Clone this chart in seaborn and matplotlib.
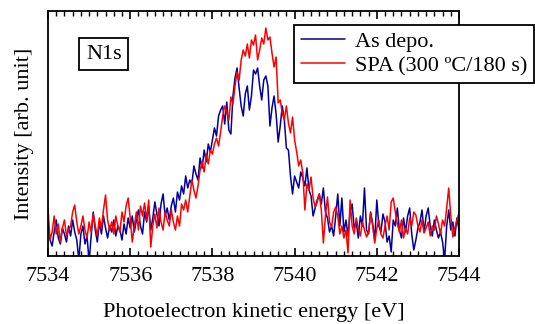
import numpy as np
import pandas as pd
import matplotlib.pyplot as plt
from matplotlib.ticker import MultipleLocator
import seaborn as sns

# kinetic energy axis, 0.05 eV step
energy = np.round(np.arange(7534.0, 7544.0001, 0.05), 2)

# As deposited (arb. units)
as_depo = [
    32, 16, 10, 24, 36, 18, 12, 28, 22, 14, 30, 20, 36, 24, 16, -4, 22, 30, 12, 20,
    -6, 20, 44, 26, 14, 34, 22, 40, 28, 18, 30, 24, 36, 20, 30, 26, 16, 32, 22, 38,
    28, 40, 24, 36, 46, 30, 22, 44, 34, 50, 26, 38, 54, 42, 30, 52, 62, 40, 48, 36,
    50, 58, 44, 64, 56, 70, 62, 80, 68, 76, 72, 90, 82, 76, 98, 88, 106, 94, 112, 104,
    116, 128, 120, 140, 146, 150, 132, 154, 126, 122, 160, 178, 188, 168, 150, 140, 162, 170, 146, 160,
    186, 182, 188, 170, 156, 176, 180, 170, 130, 148, 160, 142, 114, 130, 150, 136, 108, 106, 80, 62,
    80, 74, 68, 84, 78, 70, 88, 66, 60, 40, 48, 56, 62, 52, 68, 44, 38, 24, 30, 20,
    40, 62, 30, 58, 24, 36, 20, 44, 52, 28, 34, 18, 40, 30, 68, 26, 22, 44, 32, 16,
    56, 30, 24, 42, 34, 14, 20, 4, 36, 30, 48, 26, 18, 38, 24, 40, 48, 22, 6, 16,
    28, 34, 46, 24, 40, 48, 30, 20, 36, 26, 18, 24, 14, -4, 30, 46, 26, 34, 20, 38,
    26,
]

# SPA (300 ºC / 180 s)
spa = [
    48, 16, 24, 40, 22, 32, 14, 28, 36, 20, 26, 30, 44, 51, 34, 22, 30, 40, 26, 18,
    34, 24, 42, 30, 20, 38, 28, 46, 61, 36, 26, 34, 22, 40, 30, 24, 44, 34, 50, 58,
    38, 14, 30, 44, 26, 50, 40, 53, 36, 56, 9, 30, 42, 28, 48, 34, 26, 44, 36, 30,
    46, 34, 26, 40, 30, 52, 46, 56, 44, 60, 76, 66, 58, 70, 86, 94, 84, 102, 92, 106,
    102, 112, 118, 110, 124, 140, 150, 144, 136, 159, 152, 170, 184, 176, 196, 206, 200, 212, 198, 216,
    211, 221, 196, 206, 218, 212, 228, 216, 219, 203, 189, 199, 153, 156, 143, 136, 150, 133, 123, 139,
    116, 104, 90, 96, 83, 46, 72, 66, 79, 58, 49, 54, 62, 46, 13, 40, 59, 34, 29, 44,
    49, 40, 22, 30, 18, 26, 3, 56, 30, 22, 38, 28, 20, 34, 26, 19, 24, 43, 30, 13,
    28, 36, 22, 18, 30, 40, 26, 54, 58, 44, 32, 24, 36, 18, 28, 22, 38, 30, 44, 41,
    30, 24, 36, 23, 28, 34, 20, 30, 26, 40, 32, 22, 36, 30, 48, 68, 40, 19, 28, 36,
    43,
]

labels = ["As depo.", "SPA (300 ºC/180 s)"]
colors = ["#00009C", "#FF0000"]

df = pd.DataFrame({
    "energy": np.concatenate([energy, energy]),
    "intensity": np.concatenate([as_depo, spa]),
    "sample": [labels[0]] * len(energy) + [labels[1]] * len(energy),
})

sns.set_style("ticks")
plt.rcParams["font.family"] = ["Liberation Serif", "DejaVu Serif"]
plt.rcParams["font.size"] = 16
plt.rcParams["text.color"] = "black"
plt.rcParams["axes.labelcolor"] = "black"
plt.rcParams["xtick.color"] = "black"

fig = plt.figure(figsize=(5.35, 3.24), dpi=100)
ax = fig.add_axes([48 / 535, 68 / 324, 411 / 535, 245 / 324])

sns.lineplot(data=df, x="energy", y="intensity", hue="sample",
             palette=dict(zip(labels, colors)), linewidth=1.1, ax=ax)

ax.set_xlim(7534, 7544)
ax.set_ylim(0, 245)
ax.xaxis.set_major_locator(MultipleLocator(2))
ax.xaxis.set_minor_locator(MultipleLocator(0.2))
ax.set_yticks([])
ax.tick_params(axis="x", which="both", direction="in", top=True, bottom=True,
               labelsize=16, pad=8, color="black", labelcolor="black")
ax.tick_params(axis="x", which="major", length=6, width=1.2)
ax.tick_params(axis="x", which="minor", length=3.5, width=1.0)
for sp in ax.spines.values():
    sp.set_linewidth(1.3)
    sp.set_color("black")

ax.set_xlabel("Photoelectron kinetic energy [eV]", fontsize=16, labelpad=12)
ax.set_ylabel("Intensity [arb. unit]", fontsize=16, labelpad=10)

ax.text(0.136, 0.824, "N1s", transform=ax.transAxes, ha="center", va="center",
        fontsize=16, bbox=dict(boxstyle="square,pad=0.3", fc="white", ec="black", lw=1.3))

leg = ax.legend(loc="upper left", bbox_to_anchor=(294 / 535, 1 - 25 / 324),
                bbox_transform=fig.transFigure, fontsize=16, frameon=True,
                fancybox=False, handlelength=2.0, handletextpad=0.45,
                borderpad=0.3, labelspacing=0.15, borderaxespad=0)
leg.get_frame().set_edgecolor("black")
leg.get_frame().set_linewidth(1.3)
leg.get_frame().set_alpha(1)
for line in leg.get_lines():
    line.set_linewidth(1.1)

fig.savefig("out.png", dpi=100)
